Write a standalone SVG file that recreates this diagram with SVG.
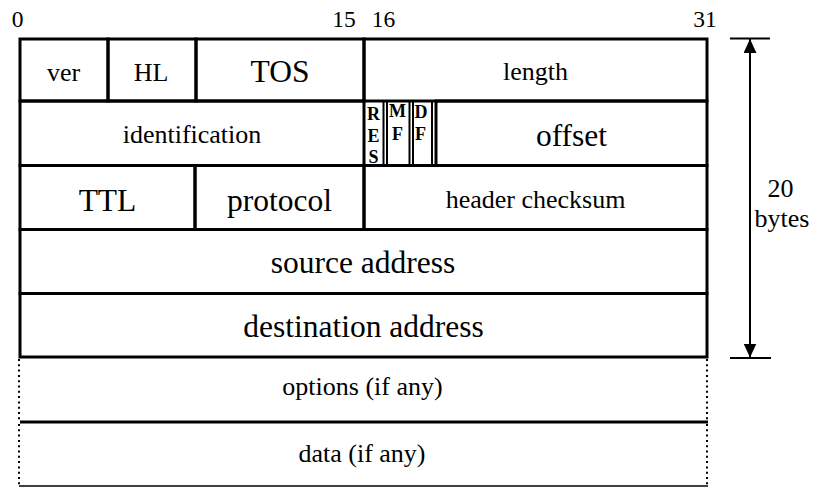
<svg xmlns="http://www.w3.org/2000/svg" width="816" height="487" viewBox="0 0 816 487">
<style>
text{font-family:"Liberation Serif","Times New Roman",serif;fill:#000;text-anchor:middle}
.s{font-size:26px}
.l{font-size:31.5px}
.n{font-size:23.5px}
.f{font-size:18px;font-weight:bold}
.c{fill:none;stroke:#000;stroke-width:3}
.fl{fill:none;stroke:#000;stroke-width:2}
.dot{fill:none;stroke:#000;stroke-width:2;stroke-dasharray:2 3.3}
.ar{fill:none;stroke:#000;stroke-width:2}
</style>
<defs>
<marker id="ah" viewBox="0 0 14 13" refX="14" refY="6.5" markerWidth="14" markerHeight="13" markerUnits="userSpaceOnUse" orient="auto">
<path d="M0,0 L14,6.5 L0,13 Z" fill="#000"/>
</marker>
</defs>
<rect width="816" height="487" fill="#fff"/>
<g id="bit-labels">
<text class="n" x="17.5" y="27">0</text>
<text class="n" x="344" y="27">15</text>
<text class="n" x="383.5" y="27">16</text>
<text class="n" x="705" y="27">31</text>
</g>
<g id="ver"><rect class="c" x="20" y="39" width="88" height="62"/><text class="s" x="63.5" y="81">ver</text></g>
<g id="hl"><rect class="c" x="108" y="39" width="88" height="62"/><text class="s" x="151" y="81">HL</text></g>
<g id="tos"><rect class="c" x="196" y="39" width="168" height="62"/><text class="l" x="280" y="82">TOS</text></g>
<g id="length"><rect class="c" x="364" y="39" width="343" height="62"/><text class="s" x="535.5" y="80">length</text></g>
<g id="identification"><rect class="c" x="20" y="101" width="344" height="64.5"/><text class="s" x="192" y="143">identification</text></g>
<g id="res"><rect class="fl" x="364" y="101" width="19.5" height="64.5"/><text class="f" x="373.5" y="120">R</text><text class="f" x="373.5" y="141.5">E</text><text class="f" x="373.5" y="163">S</text></g>
<g id="mf"><rect class="fl" x="387" y="101" width="22.5" height="64.5"/><text class="f" x="397.5" y="117">M</text><text class="f" x="397.5" y="140">F</text></g>
<g id="df"><rect class="fl" x="413" y="101" width="19" height="64.5"/><text class="f" x="421" y="118">D</text><text class="f" x="420.5" y="140">F</text></g>
<g id="offset"><rect class="c" x="436" y="101" width="271" height="64.5"/><text class="l" x="571.5" y="146">offset</text></g>
<g id="ttl"><rect class="c" x="20" y="165.5" width="175" height="64"/><text class="l" x="107.5" y="211">TTL</text></g>
<g id="protocol"><rect class="c" x="195" y="165.5" width="169" height="64"/><text class="l" x="279.5" y="211">protocol</text></g>
<g id="checksum"><rect class="c" x="364" y="165.5" width="343" height="64"/><text class="s" x="535.5" y="208">header checksum</text></g>
<g id="source"><rect class="c" x="20" y="229.5" width="687" height="64"/><text class="l" x="363" y="273">source address</text></g>
<g id="destination"><rect class="c" x="20" y="293.5" width="687" height="63.5"/><text class="l" x="363.5" y="337">destination address</text></g>
<g id="options">
<line class="dot" x1="19" y1="359" x2="19" y2="421"/>
<line class="dot" x1="707" y1="359" x2="707" y2="421"/>
<line class="c" x1="20" y1="422" x2="708" y2="422"/>
<text class="s" x="362.5" y="395">options (if any)</text>
</g>
<g id="data">
<line class="dot" x1="19" y1="424" x2="19" y2="486"/>
<line class="dot" x1="707" y1="424" x2="707" y2="486"/>
<line x1="19" y1="486" x2="708" y2="486" stroke="#000" stroke-width="1.5"/>
<text class="s" x="362" y="462">data (if any)</text>
</g>
<g id="size-label">
<text class="s" x="780.5" y="197">20</text>
<text class="s" x="782" y="227">bytes</text>
</g>
<g id="connectors">
<line class="ar" x1="730" y1="38.5" x2="770" y2="38.5"/>
<line class="ar" x1="730" y1="358" x2="771" y2="358"/>
<line class="ar" x1="750" y1="198" x2="750" y2="39" marker-end="url(#ah)"/>
<line class="ar" x1="750" y1="198" x2="750" y2="357.5" marker-end="url(#ah)"/>
</g>
</svg>
